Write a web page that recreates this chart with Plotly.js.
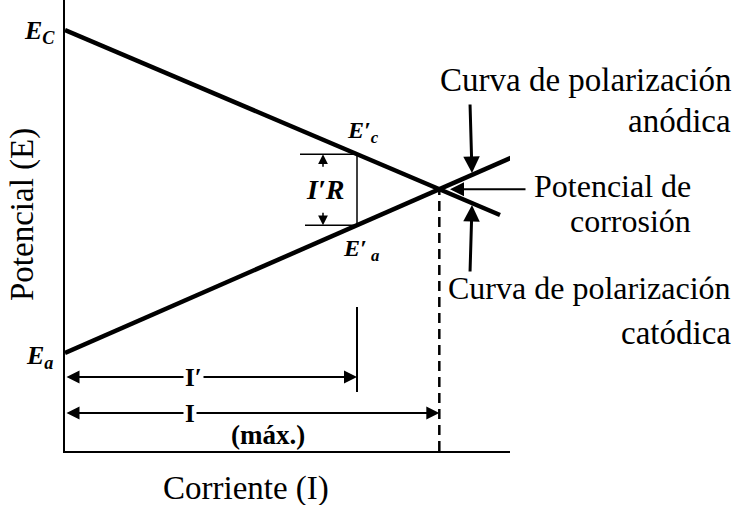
<!DOCTYPE html>
<html>
<head>
<meta charset="utf-8">
<script src="https://cdn.plot.ly/plotly-3.0.1.min.js"></script>
<style>html,body{margin:0;padding:0;background:#fff;}#chart{width:744px;height:505px;}</style>
</head>
<body>
<div id="chart"></div>
<script>
// ---- data (schematic units) ----
const corrienteCatodica = [0, 435];
const potencialCatodica = [421, 236];
const corrienteAnodica = [0, 457];
const potencialAnodica = [98, 298];
const corrientePrima = 292;          // I'
const guiaPrimaE = [59, 144];        // vertical guide under I'
const cotaIprimaE = 74;              // level of I' dimension arrow
const cotaImaxE = 38;                // level of I (máx.) dimension arrow

const X_MAX = 445, Y_MAX = 451;

function lineAt(xs, ys, x) { return ys[0] + (ys[1] - ys[0]) * (x - xs[0]) / (xs[1] - xs[0]); }
const mC = (potencialCatodica[1] - potencialCatodica[0]) / (corrienteCatodica[1] - corrienteCatodica[0]);
const mA = (potencialAnodica[1] - potencialAnodica[0]) / (corrienteAnodica[1] - corrienteAnodica[0]);
const corrienteMax = (potencialAnodica[0] - potencialCatodica[0]) / (mC - mA);
const potencialCorr = potencialCatodica[0] + mC * corrienteMax;
const EcPrima = lineAt(corrienteCatodica, potencialCatodica, corrientePrima);
const EaPrima = lineAt(corrienteAnodica, potencialAnodica, corrientePrima);

const black = '#000';
const serif = 'Liberation Serif';

const traces = [
  {x: corrienteCatodica, y: potencialCatodica, mode: 'lines', line: {color: black, width: 4.5}, hoverinfo: 'skip'},
  {x: corrienteAnodica, y: potencialAnodica, mode: 'lines', line: {color: black, width: 4.5}, hoverinfo: 'skip'},
  {x: [corrienteMax, corrienteMax], y: [0, potencialCorr], mode: 'lines', line: {color: black, width: 2.5, dash: '10px,6px'}, hoverinfo: 'skip'},
  {x: [corrientePrima, corrientePrima], y: [EaPrima, EcPrima], mode: 'lines', line: {color: black, width: 1.5}, hoverinfo: 'skip'},
  {x: [corrientePrima - 57, corrientePrima], y: [EcPrima, EcPrima], mode: 'lines', line: {color: black, width: 1.5}, hoverinfo: 'skip'},
  {x: [corrientePrima - 52, corrientePrima], y: [EaPrima, EaPrima], mode: 'lines', line: {color: black, width: 1.5}, hoverinfo: 'skip'},
  {x: [corrientePrima, corrientePrima], y: guiaPrimaE, mode: 'lines', line: {color: black, width: 2}, hoverinfo: 'skip'}
];

function arrow(x, y, ax, ay, both, w, size) {
  return {x: x / X_MAX, y: y / Y_MAX, ax: ax / X_MAX, ay: ay / Y_MAX, xref: 'paper', yref: 'paper', axref: 'paper', ayref: 'paper', text: '',
    showarrow: true, arrowhead: 2, arrowsize: size || 1.3, arrowwidth: w || 2, arrowcolor: black,
    startarrowhead: 2, startarrowsize: size || 1.3, arrowside: both ? 'end+start' : 'end', standoff: 0, startstandoff: 0};
}
function label(text, x, y, size, anchor, extra) {
  return Object.assign({x: x / X_MAX, y: y / Y_MAX, xref: 'paper', yref: 'paper', text: text, showarrow: false,
    xanchor: anchor || 'center', yanchor: 'middle', font: {family: serif, size: size, color: black}}, extra || {});
}

const annotations = [
  // dimension arrows
  arrow(corrientePrima, cotaIprimaE, 0, cotaIprimaE, true, 2),
  arrow(corrienteMax, cotaImaxE, 0, cotaImaxE, true, 2),
  // I'R arrows
  arrow(258, EcPrima, 258, EcPrima - 14, false, 1.5),
  arrow(258, EaPrima, 258, EaPrima + 14, false, 1.5),
  // right-side pointer arrows
  arrow(407, lineAt(corrienteAnodica, potencialAnodica, 407) + 2, 405, 348, false, 3, 1.1),
  arrow(385, potencialCorr, 462, potencialCorr, false, 2, 1.4),
  arrow(407, lineAt(corrienteCatodica, potencialCatodica, 407) - 2, 405, 178, false, 3, 1.1),
  // labels on the diagram
  label('<b><i>E<sub>C</sub></i></b>', -26, 419, 26),
  label('<b><i>E<sub>a</sub></i></b>', -26, 94, 26),
  label("<b><i>E′<sub>c</sub></i></b>", 298, 319, 24),
  label("<b><i>E′<sub> a</sub></i></b>", 296, 201, 24),
  label("<b><i>I′R</i></b>", 260, 262, 28),
  label('<b>I′</b>', 128, cotaIprimaE, 25, 'center', {bgcolor: '#fff'}),
  label('<b>I</b>', 125, cotaImaxE, 25, 'center', {bgcolor: '#fff'}),
  label('<b>(máx.)</b>', 203, 16, 27),
  // right-side texts
  label('Curva de polarización', 668, 371, 33, 'right'),
  label('anódica', 668, 330, 33, 'right'),
  label('Potencial de', 628, 265, 32, 'right'),
  label('corrosión', 628, 230, 32, 'right'),
  label('Curva de polarización', 668, 163, 32, 'right'),
  label('catódica', 668, 118, 33, 'right'),
  // axis titles
  label('Potencial (E)', -43, 236, 33, 'center', {textangle: -90}),
  label('Corriente (I)', 181, -37, 33)
];

const layout = {
  width: 744, height: 505,
  margin: {l: 65, r: 234, t: 0, b: 54, pad: 0},
  paper_bgcolor: '#fff', plot_bgcolor: '#fff',
  showlegend: false,
  font: {family: serif},
  xaxis: {range: [0, X_MAX], showline: true, linewidth: 2, linecolor: black, showgrid: false, zeroline: false, showticklabels: false, ticks: '', fixedrange: true},
  yaxis: {range: [0, Y_MAX], showline: true, linewidth: 2, linecolor: black, showgrid: false, zeroline: false, showticklabels: false, ticks: '', fixedrange: true},
  annotations: annotations
};

Plotly.newPlot('chart', traces, layout, {staticPlot: true, displayModeBar: false});
</script>
</body>
</html>
